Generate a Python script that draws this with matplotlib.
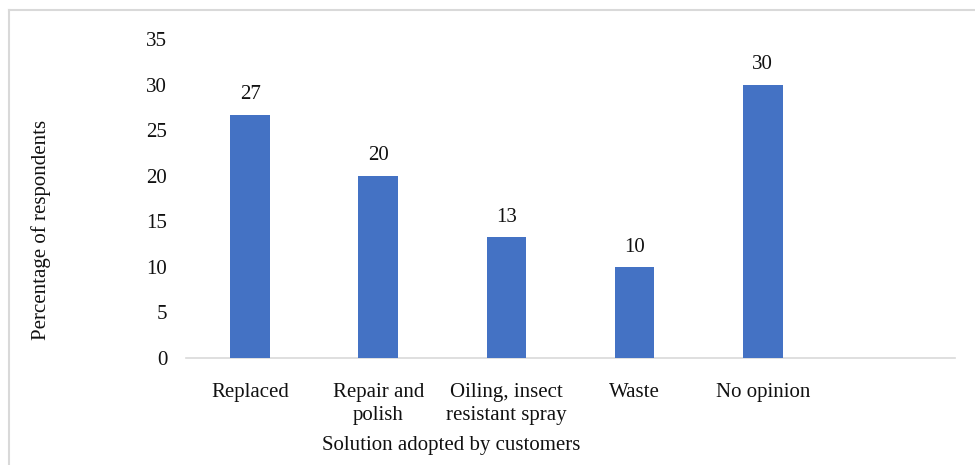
import matplotlib
matplotlib.use("Agg")
import matplotlib.pyplot as plt
from matplotlib.lines import Line2D

categories = ["Replaced", "Repair and\npolish", "Oiling, insect\nresistant spray", "Waste", "No opinion"]
percentages = [26.7, 20.0, 13.3, 10.0, 30.0]
y_ticks = [0, 5, 10, 15, 20, 25, 30, 35]

plt.rcParams["font.family"] = ["Liberation Serif", "DejaVu Serif"]
plt.rcParams["font.size"] = 15

W, H = 975, 465
fig = plt.figure(figsize=(W / 100, H / 100), dpi=100)
ax = fig.add_axes([186 / W, 1 - 358 / H, (955 - 186) / W, (358 - 39) / H])

x = list(range(len(categories)))
bars = ax.bar(x, percentages, width=0.31, color="#4472C4", zorder=3)

for xi, v in zip(x, percentages):
    ax.annotate(f"{v:.0f}", (xi, v), xytext=(0, 11), textcoords="offset points",
                ha="center", va="baseline", fontsize=15, color="#111111")

ax.set_xlim(-0.5, 5.5)
ax.set_ylim(0, 35)
ax.set_yticks(y_ticks)
ax.set_xticks(x)
ax.set_xticklabels(categories, linespacing=1.32)
ax.tick_params(axis="both", length=0, colors="#111111", labelsize=15)
ax.tick_params(axis="y", pad=13.5)
ax.tick_params(axis="x", pad=18)

for side in ("top", "right", "left"):
    ax.spines[side].set_visible(False)
ax.spines["bottom"].set_color("#d9d9d9")
ax.spines["bottom"].set_linewidth(1.2)

fig.text(41 / W, 1 - 230 / H, "Percentage of respondents", rotation=90,
         ha="center", va="center", fontsize=15, color="#111111")
fig.text(451 / W, 1 - 445 / H, "Solution adopted by customers",
         ha="center", va="center", fontsize=15, color="#111111")

# outer chart frame (left and top edges)
fig.add_artist(Line2D([9 / W, 9 / W], [0, 1 - 10 / H], transform=fig.transFigure,
                      color="#d9d9d9", linewidth=1.5))
fig.add_artist(Line2D([9 / W, 1], [1 - 10 / H, 1 - 10 / H], transform=fig.transFigure,
                      color="#d9d9d9", linewidth=1.5))

fig.savefig("out.png", dpi=100, facecolor="white")
